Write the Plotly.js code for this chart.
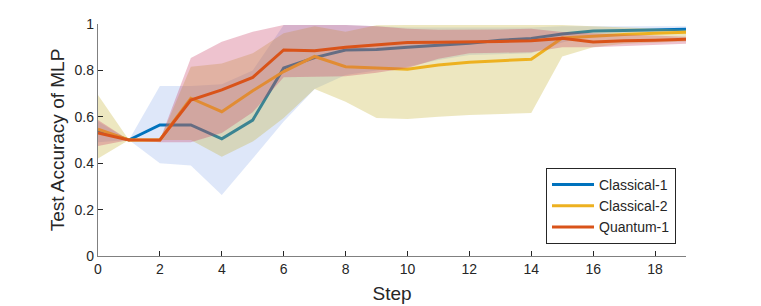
<!DOCTYPE html>
<html>
<head>
<meta charset="utf-8">
<script src="https://cdn.plot.ly/plotly-3.0.1.min.js"></script>
<style>html,body{margin:0;padding:0;background:#fff;}#chart{width:761px;height:306px;}</style>
</head>
<body>
<div id="chart"></div>
<script>
const steps = [0,1,2,3,4,5,6,7,8,9,10,11,12,13,14,15,16,17,18,19];

const classical1 = [0.54,0.50,0.565,0.565,0.505,0.586,0.81,0.855,0.888,0.89,0.90,0.909,0.917,0.93,0.938,0.957,0.97,0.972,0.975,0.977];
const classical1Lo = [0.49,0.50,0.40,0.39,0.263,0.42,0.58,0.72,0.78,0.80,0.816,0.845,0.866,0.87,0.874,0.92,0.95,0.96,0.965,0.965];
const classical1Hi = [0.58,0.50,0.733,0.733,0.74,0.80,0.996,0.996,0.996,0.99,0.985,0.985,0.985,0.985,0.985,0.99,0.99,0.99,0.99,0.99];

const classical2 = [0.547,0.50,0.50,0.68,0.622,0.712,0.795,0.86,0.816,0.81,0.805,0.823,0.835,0.842,0.848,0.94,0.948,0.955,0.96,0.964];
const classical2Lo = [0.42,0.50,0.50,0.50,0.428,0.493,0.595,0.72,0.665,0.595,0.59,0.60,0.608,0.612,0.616,0.86,0.90,0.915,0.92,0.925];
const classical2Hi = [0.694,0.50,0.50,0.816,0.83,0.874,0.96,0.99,0.967,0.995,0.996,0.996,0.996,0.996,0.996,0.996,0.99,0.985,0.98,0.975];

const quantum1 = [0.53,0.50,0.50,0.672,0.716,0.77,0.888,0.885,0.90,0.909,0.92,0.921,0.922,0.925,0.928,0.938,0.922,0.928,0.93,0.934];
const quantum1Lo = [0.474,0.50,0.49,0.49,0.53,0.62,0.77,0.773,0.775,0.79,0.81,0.85,0.874,0.876,0.878,0.90,0.90,0.905,0.91,0.915];
const quantum1Hi = [0.586,0.50,0.50,0.853,0.924,0.967,0.996,0.996,0.996,0.99,0.98,0.975,0.974,0.976,0.98,0.965,0.96,0.955,0.95,0.945];

const xTicks = [0,2,4,6,8,10,12,14,16,18];
const yTicks = [0,0.2,0.4,0.6,0.8,1];
const yTickText = ["0","0.2","0.4","0.6","0.8","1"];

function band(lo, hi, color) {
  return {
    x: steps.concat(steps.slice().reverse()),
    y: hi.concat(lo.slice().reverse()),
    type: 'scatter', mode: 'lines', fill: 'toself',
    fillcolor: color, line: {width: 0, color: 'rgba(0,0,0,0)'},
    hoverinfo: 'skip', showlegend: false
  };
}
function line(y, name, color) {
  return {x: steps, y: y, type: 'scatter', mode: 'lines', name: name,
          line: {color: color, width: 3}};
}

const data = [
  band(classical1Lo, classical1Hi, 'rgba(70,120,220,0.18)'),
  line(classical1, 'Classical-1', '#0072BD'),
  band(classical2Lo, classical2Hi, 'rgba(195,175,45,0.3)'),
  line(classical2, 'Classical-2', '#EDB120'),
  band(quantum1Lo, quantum1Hi, 'rgba(200,55,95,0.3)'),
  line(quantum1, 'Quantum-1', '#D95319')
];

const font = '"Liberation Sans", Arial, Helvetica, sans-serif';
const layout = {
  width: 761, height: 306,
  margin: {l: 98, r: 75, t: 24, b: 50},
  paper_bgcolor: '#fff', plot_bgcolor: '#fff',
  font: {family: font, size: 14, color: '#262626'},
  showlegend: true,
  legend: {x: 0.983, y: 0.052, xanchor: 'right', yanchor: 'bottom',
           bgcolor: '#fff', bordercolor: '#262626', borderwidth: 1,
           font: {family: font, size: 14, color: '#262626'},
           itemwidth: 42, tracegroupgap: 0},
  xaxis: {range: [0, 19], tickvals: xTicks, ticks: 'inside', ticklen: 5,
          tickcolor: '#262626', showline: true, linecolor: '#808080', linewidth: 1.2,
          showgrid: false, zeroline: false, mirror: false,
          tickfont: {size: 14, color: '#262626'},
          title: {text: 'Step', font: {size: 19, color: '#262626'}, standoff: 10}},
  yaxis: {range: [0, 1], tickvals: yTicks, ticktext: yTickText, ticks: 'inside', ticklen: 5,
          tickcolor: '#262626', showline: true, linecolor: '#808080', linewidth: 1.2,
          showgrid: false, zeroline: false, mirror: false,
          tickfont: {size: 14, color: '#262626'},
          title: {text: 'Test Accuracy of MLP', font: {size: 19, color: '#262626'}, standoff: 4}}
};

Plotly.newPlot('chart', data, layout, {displayModeBar: false, staticPlot: true});
</script>
</body>
</html>
